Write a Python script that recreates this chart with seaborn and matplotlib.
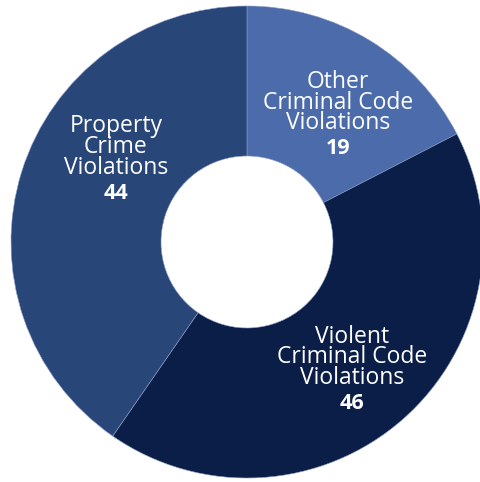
import matplotlib
matplotlib.use("Agg")
import matplotlib.pyplot as plt
import numpy as np
import seaborn as sns

categories = ["Other\nCriminal Code\nViolations", "Violent\nCriminal Code\nViolations", "Property\nCrime\nViolations"]
values = [19, 46, 44]
colors = ["#4b6baa", "#0b1e48", "#294679"]

# label placement: (radius, angle offset in degrees from wedge middle)
LABEL_POS = [(138, -10), (184, -6.5), (144, -7)]

W, H = 480, 482
CX, CY, R, HOLE = 247, 240, 236, 86

sns.set_theme(style="white")
plt.rcParams["font.family"] = ["Open Sans", "DejaVu Sans"]

fig = plt.figure(figsize=(W / 100, H / 100), dpi=100)
ax = fig.add_axes([0, 0, 1, 1])

wedges, _ = ax.pie(
    values,
    colors=colors,
    startangle=90,
    counterclock=False,
    center=(CX, CY),
    radius=R,
    wedgeprops=dict(width=R - HOLE, edgecolor="#8a9cc4", linewidth=0.4),
)

# pie() resets the limits, so set them afterwards
ax.set_xlim(0, W)
ax.set_ylim(0, H)
ax.set_aspect("equal")
ax.axis("off")

for wedge, name, val, (rad, off) in zip(wedges, categories, values, LABEL_POS):
    mid = np.deg2rad((wedge.theta1 + wedge.theta2) / 2 + off)
    x = CX + rad * np.cos(mid)
    y = CY + rad * np.sin(mid)
    ax.text(x, y + 3, name, color="white", fontsize=16.5, ha="center", va="bottom",
            linespacing=0.82)
    ax.text(x, y, str(val), color="white", fontsize=15.5, fontweight="bold",
            ha="center", va="top")

fig.savefig("out.png", dpi=100)
